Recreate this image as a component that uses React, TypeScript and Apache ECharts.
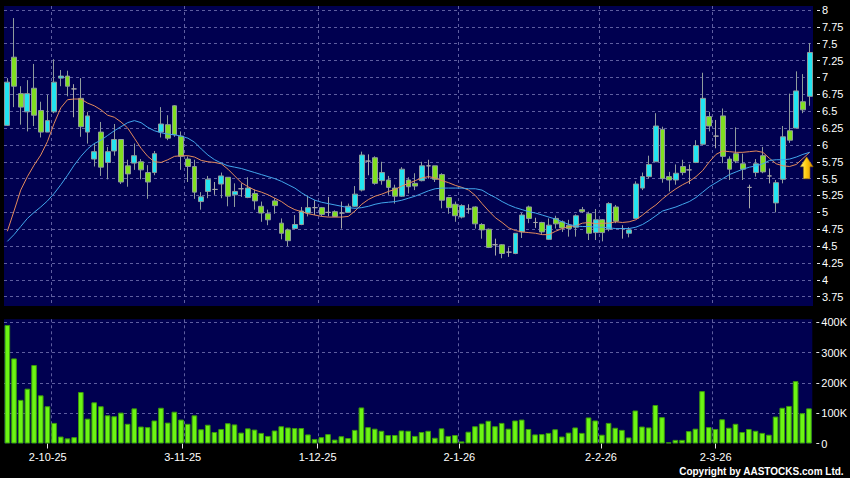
import React, { useEffect, useRef } from 'react';
import * as echarts from 'echarts';

const dates = [
  '22-9-25','23-9-25','24-9-25','25-9-25','26-9-25','29-9-25','30-9-25',
  '2-10-25','3-10-25','6-10-25','8-10-25','9-10-25','10-10-25','13-10-25','14-10-25','15-10-25','16-10-25','17-10-25','20-10-25','21-10-25','22-10-25','23-10-25','24-10-25','27-10-25','28-10-25','30-10-25','31-10-25',
  '3-11-25','4-11-25','5-11-25','6-11-25','7-11-25','10-11-25','11-11-25','12-11-25','13-11-25','14-11-25','17-11-25','18-11-25','19-11-25','20-11-25','21-11-25','24-11-25','25-11-25','26-11-25','27-11-25','28-11-25',
  '1-12-25','2-12-25','3-12-25','4-12-25','5-12-25','8-12-25','9-12-25','10-12-25','11-12-25','12-12-25','15-12-25','16-12-25','17-12-25','18-12-25','19-12-25','22-12-25','23-12-25','24-12-25','29-12-25','30-12-25','31-12-25',
  '2-1-26','5-1-26','6-1-26','7-1-26','8-1-26','9-1-26','12-1-26','13-1-26','14-1-26','15-1-26','16-1-26','19-1-26','20-1-26','21-1-26','22-1-26','23-1-26','26-1-26','27-1-26','28-1-26','29-1-26','30-1-26',
  '2-2-26','3-2-26','4-2-26','5-2-26','6-2-26','9-2-26','10-2-26','11-2-26','12-2-26','13-2-26','16-2-26','20-2-26','23-2-26','24-2-26','25-2-26','26-2-26','27-2-26',
  '2-3-26','3-3-26','4-3-26','5-3-26','6-3-26','9-3-26','10-3-26','11-3-26','12-3-26','13-3-26','16-3-26','17-3-26','18-3-26','19-3-26','20-3-26',
];

const tickLabels = ['2-10-25', '3-11-25', '1-12-25', '2-1-26', '2-2-26', '2-3-26'];

const opens = [
  6.29,7.30,6.76,6.49,6.84,6.51,6.19,6.49,6.99,7.02,
  6.83,6.69,6.19,5.79,6.19,5.74,5.91,6.08,5.69,5.73,
  5.75,5.59,5.59,6.19,6.30,6.58,6.13,5.79,5.68,5.16,
  5.31,5.34,5.42,5.52,5.26,5.35,5.22,5.28,5.09,4.98,
  5.17,4.84,4.74,4.76,4.82,4.99,5.07,5.07,5.00,5.01,
  4.99,5.00,5.09,5.33,5.76,5.81,5.47,5.48,5.36,5.24,
  5.48,5.43,5.47,5.69,5.69,5.56,5.22,5.12,4.93,5.05,
  5.08,4.82,4.75,4.52,4.52,4.41,4.39,4.71,5.08,4.85,
  4.85,4.60,4.91,4.86,4.81,4.78,5.04,4.98,4.70,4.89,
  4.75,5.08,4.76,4.69,4.91,5.36,5.53,5.75,6.23,5.53,
  5.48,5.68,5.63,5.74,6.01,6.42,6.13,6.43,5.79,5.87,
  5.72,5.37,5.59,5.84,5.54,5.14,5.49,6.21,6.25,6.64,
  6.72,
];
const closes = [
  6.93,6.87,6.56,6.76,6.44,6.19,6.36,6.93,7.02,6.87,
  6.83,6.27,6.43,5.90,5.67,5.90,6.08,5.45,5.57,5.84,
  5.63,5.45,5.87,6.31,6.10,6.15,5.83,5.68,5.30,5.23,
  5.49,5.34,5.54,5.24,5.31,5.35,5.36,5.17,4.99,4.89,
  5.10,4.69,4.58,4.82,5.02,5.07,5.07,4.97,5.00,4.94,
  4.99,5.09,5.27,5.85,5.76,5.43,5.59,5.37,5.24,5.64,
  5.38,5.39,5.69,5.69,5.49,5.18,5.07,4.95,5.10,5.05,
  4.83,4.74,4.48,4.52,4.39,4.41,4.69,4.96,4.91,4.85,
  4.71,4.81,4.83,4.77,4.76,4.95,5.01,4.69,4.89,4.70,
  5.13,4.87,4.76,4.74,5.42,5.53,5.71,6.28,5.50,5.48,
  5.58,5.59,5.63,5.99,6.69,6.28,6.13,5.83,5.64,5.76,
  5.64,5.37,5.72,5.60,5.54,5.44,6.12,6.07,6.80,6.52,
  7.37,
];
const lows = [
  6.28,6.56,6.30,6.20,6.28,6.11,6.19,6.47,6.87,6.72,
  6.41,6.12,6.02,5.68,5.54,5.49,5.84,5.42,5.38,5.63,
  5.49,5.20,5.55,6.11,6.07,6.12,5.63,5.45,5.20,5.04,
  5.21,5.26,5.21,5.09,5.08,5.23,5.21,5.04,4.86,4.81,
  4.98,4.60,4.50,4.76,4.81,4.94,4.96,4.94,4.94,4.93,
  4.76,4.99,5.08,5.31,5.55,5.41,5.41,5.26,5.13,5.23,
  5.28,5.33,5.46,5.50,5.45,5.06,4.98,4.86,4.91,4.98,
  4.76,4.61,4.47,4.36,4.32,4.34,4.38,4.62,4.84,4.77,
  4.68,4.59,4.76,4.71,4.64,4.64,4.99,4.59,4.59,4.57,
  4.72,4.84,4.61,4.63,4.90,5.33,5.50,5.75,5.44,5.31,
  5.41,5.55,5.42,5.73,6.00,6.20,5.95,5.73,5.48,5.73,
  5.48,5.06,5.53,5.58,5.43,5.00,5.43,6.03,6.25,6.47,
  6.58,
];
const highs = [
  6.99,7.88,6.87,6.96,7.20,6.64,6.74,7.27,7.11,7.10,
  6.90,6.99,6.49,6.02,6.34,5.97,6.31,6.08,5.78,6.02,
  5.79,5.70,5.91,6.56,6.44,6.59,6.20,5.83,5.78,5.30,
  5.54,5.45,5.59,5.52,5.43,5.43,5.52,5.34,5.16,5.04,
  5.21,4.91,4.76,4.96,5.08,5.25,5.18,5.08,5.23,5.03,
  5.16,5.13,5.39,5.90,5.86,5.83,5.75,5.54,5.41,5.67,
  5.52,5.58,5.75,5.78,5.69,5.58,5.23,5.16,5.12,5.12,
  5.09,4.84,4.76,4.61,4.53,4.48,4.69,4.99,5.10,4.92,
  4.86,4.91,4.95,4.88,4.89,4.97,5.08,5.01,5.05,4.90,
  5.15,5.11,4.81,4.78,5.46,5.59,5.84,6.47,6.27,5.60,
  5.71,5.78,5.71,6.07,7.07,6.49,6.37,6.54,5.83,6.26,
  5.87,5.41,5.79,5.97,5.65,5.48,6.28,6.76,7.09,7.05,
  7.51,
];

const ma10 = [
  4.72,5.02,5.33,5.53,5.70,5.85,6.05,6.32,6.55,6.67,
  6.68,6.68,6.62,6.58,6.52,6.44,6.41,6.34,6.25,6.10,
  5.95,5.83,5.75,5.74,5.78,5.83,5.84,5.84,5.82,5.77,
  5.75,5.74,5.72,5.64,5.54,5.44,5.38,5.33,5.30,5.26,
  5.21,5.16,5.09,5.04,5.01,4.98,4.96,4.94,4.93,4.93,
  4.93,4.94,5.02,5.12,5.19,5.24,5.27,5.31,5.34,5.39,
  5.43,5.47,5.51,5.53,5.51,5.47,5.44,5.40,5.37,5.33,
  5.25,5.13,5.02,4.92,4.85,4.77,4.73,4.71,4.70,4.69,
  4.67,4.67,4.72,4.76,4.79,4.80,4.84,4.85,4.83,4.84,
  4.84,4.86,4.85,4.86,4.89,4.96,5.04,5.11,5.20,5.28,
  5.35,5.41,5.46,5.53,5.62,5.75,5.86,5.91,5.90,5.89,
  5.89,5.90,5.91,5.89,5.80,5.72,5.69,5.68,5.71,5.80,
  5.89,
];
const ma20 = [
  4.57,4.67,4.79,4.91,5.00,5.08,5.17,5.28,5.41,5.55,
  5.70,5.83,5.94,6.02,6.07,6.14,6.21,6.27,6.33,6.36,
  6.33,6.26,6.21,6.18,6.16,6.15,6.13,6.10,6.04,5.94,
  5.85,5.78,5.73,5.69,5.67,5.65,5.62,5.59,5.56,5.53,
  5.50,5.46,5.41,5.36,5.29,5.23,5.18,5.15,5.13,5.11,
  5.09,5.07,5.06,5.07,5.09,5.12,5.14,5.15,5.16,5.18,
  5.21,5.24,5.28,5.32,5.35,5.36,5.36,5.36,5.36,5.35,
  5.35,5.33,5.27,5.22,5.16,5.11,5.07,5.04,5.01,4.99,
  4.96,4.93,4.90,4.86,4.82,4.80,4.79,4.79,4.78,4.78,
  4.77,4.76,4.76,4.76,4.78,4.82,4.88,4.95,5.02,5.05,
  5.08,5.12,5.16,5.22,5.30,5.38,5.44,5.50,5.56,5.60,
  5.64,5.67,5.69,5.72,5.77,5.78,5.78,5.79,5.82,5.86,
  5.89,
];

// volume in thousands of shares
const volumeK = [
  391,281,144,181,259,159,123,68,23,17,
  21,170,82,136,123,93,90,102,65,116,
  56,54,76,118,69,105,79,65,93,47,
  62,38,48,67,63,36,50,46,35,25,
  43,57,53,51,51,30,15,21,31,13,
  24,18,45,119,54,49,42,28,28,43,
  42,25,38,42,19,50,25,28,7,39,
  57,66,75,57,68,49,76,79,48,30,
  31,35,47,23,36,53,35,86,76,29,
  68,52,45,20,109,56,53,127,87,4,
  12,12,41,49,173,54,48,80,52,65,
  38,48,42,35,29,89,118,124,206,100,
  116,
];

const priceTicks = [3.75,4,4.25,4.5,4.75,5,5.25,5.5,5.75,6,6.25,6.5,6.75,7,7.25,7.5,7.75,8];
const volumeTicks = [0, 100000, 200000, 300000, 400000];
const arrowDate = '19-3-26';
const arrowPrice = 5.66;

const FONT = '"Liberation Sans", Arial, Helvetica, sans-serif';

export default function App() {
  const ref = useRef<HTMLDivElement>(null);

  useEffect(() => {
    document.body.style.margin = '0';
    document.body.style.background = '#000';
    if (!ref.current) return;
    const chart = echarts.init(ref.current, null, { renderer: 'svg' });

    const boundaries = [...dates, ''];
    const isTick = (_i: number, v: string) => tickLabels.includes(v);
    const gridLine = { color: '#5e5ea0', type: [3, 3], width: 1 };
    const candleData = dates.map((_, i) => [opens[i], closes[i], lows[i], highs[i]]);
    const volData = volumeK.map((v) => v * 1000);

    const hiddenAxis = {
      axisLine: { show: false },
      axisTick: { show: false },
      axisLabel: { show: false },
    };

    chart.setOption({
      animation: false,
      backgroundColor: '#000000',
      grid: [
        { left: 4, top: 6, width: 809, height: 300, show: true, backgroundColor: '#000050', borderWidth: 0 },
        { left: 4, top: 319.3, width: 809, height: 124.2, show: true, backgroundColor: '#000050', borderWidth: 0 },
        { left: 0.5, top: 319.3, width: 816.4, height: 124.2, show: false },
      ],
      xAxis: [
        { type: 'category', gridIndex: 0, data: dates, boundaryGap: true, show: false },
        { type: 'category', gridIndex: 1, data: dates, boundaryGap: true, show: false },
        {
          type: 'category', gridIndex: 0, data: boundaries, boundaryGap: false, position: 'bottom',
          ...hiddenAxis,
          splitLine: { show: true, interval: isTick, lineStyle: gridLine },
        },
        {
          type: 'category', gridIndex: 1, data: boundaries, boundaryGap: false, position: 'bottom',
          ...hiddenAxis,
          splitLine: { show: true, interval: isTick, lineStyle: gridLine },
        },
        {
          type: 'category', gridIndex: 2, data: boundaries, boundaryGap: false, position: 'bottom',
          axisLine: { show: false },
          axisTick: { show: true, interval: isTick, length: 5, lineStyle: { color: '#e6e6e6', width: 1 } },
          axisLabel: { show: true, interval: isTick, color: '#ffffff', fontSize: 11, fontFamily: FONT, margin: 8 },
          splitLine: { show: false },
        },
      ],
      yAxis: [
        {
          type: 'value', gridIndex: 0, position: 'right', offset: 4, min: 3.612, max: 8.059,
          axisLine: { show: false },
          axisTick: { show: true, length: 3, customValues: priceTicks, lineStyle: { color: '#e6e6e6' } },
          axisLabel: { customValues: priceTicks, color: '#ffffff', fontSize: 11, fontFamily: FONT, margin: 5 },
          splitLine: { show: true, customValues: priceTicks, lineStyle: gridLine },
        },
        {
          type: 'value', gridIndex: 1, position: 'right', offset: 4, min: 0, max: 410000,
          axisLine: { show: false },
          axisTick: { show: true, length: 3, customValues: volumeTicks, lineStyle: { color: '#e6e6e6' } },
          axisLabel: {
            customValues: volumeTicks, color: '#ffffff', fontSize: 11, fontFamily: FONT, margin: 5,
            formatter: (v: number) => (v === 0 ? '0' : `${v / 1000}K`),
          },
          splitLine: { show: true, showMinLine: false, customValues: volumeTicks, lineStyle: gridLine },
        },
        { type: 'value', gridIndex: 2, show: false, min: 0, max: 1 },
      ],
      series: [
        {
          type: 'candlestick',
          xAxisIndex: 0,
          yAxisIndex: 0,
          data: candleData,
          barWidth: '80%',
          itemStyle: {
            color: '#22e4f0',
            color0: '#80df20',
            borderColor: '#8f9c9c',
            borderColor0: '#8f9c9c',
            borderColorDoji: '#a8a8a8',
            borderWidth: 1,
          },
          markPoint: {
            symbol: 'path://M6.5,0 L13,10 L9.8,10 L9.8,22 L3.2,22 L3.2,10 L0,10 Z',
            symbolSize: [13, 22],
            symbolKeepAspect: false,
            label: { show: false },
            itemStyle: {
              color: new echarts.graphic.LinearGradient(0, 0, 1, 0, [
                { offset: 0, color: '#fff288' },
                { offset: 0.45, color: '#ffcc10' },
                { offset: 1, color: '#d88a00' },
              ]),
              borderColor: '#8a6400',
              borderWidth: 0.5,
            },
            data: [{ coord: [arrowDate, arrowPrice], symbolOffset: [3.7, 0] }],
          },
        },
        {
          type: 'line', name: 'MA10', xAxisIndex: 0, yAxisIndex: 0, data: ma10,
          symbol: 'none', lineStyle: { color: '#e38a5c', width: 1 }, z: 3,
        },
        {
          type: 'line', name: 'MA20', xAxisIndex: 0, yAxisIndex: 0, data: ma20,
          symbol: 'none', lineStyle: { color: '#42a6ec', width: 1 }, z: 3,
        },
        {
          type: 'bar', xAxisIndex: 1, yAxisIndex: 1, data: volData, barWidth: '84%',
          itemStyle: { color: '#6cf514', borderColor: '#3c9a0c', borderWidth: 1 },
        },
      ],
      graphic: [
        {
          type: 'text',
          right: 6,
          top: 466,
          style: {
            text: 'Copyright by AASTOCKS.com Ltd.',
            fill: '#ffffff',
            font: `bold 10px ${FONT}`,
          },
        },
      ],
    });

    return () => chart.dispose();
  }, []);

  return <div ref={ref} style={{ width: 850, height: 478, background: '#000' }} />;
}
